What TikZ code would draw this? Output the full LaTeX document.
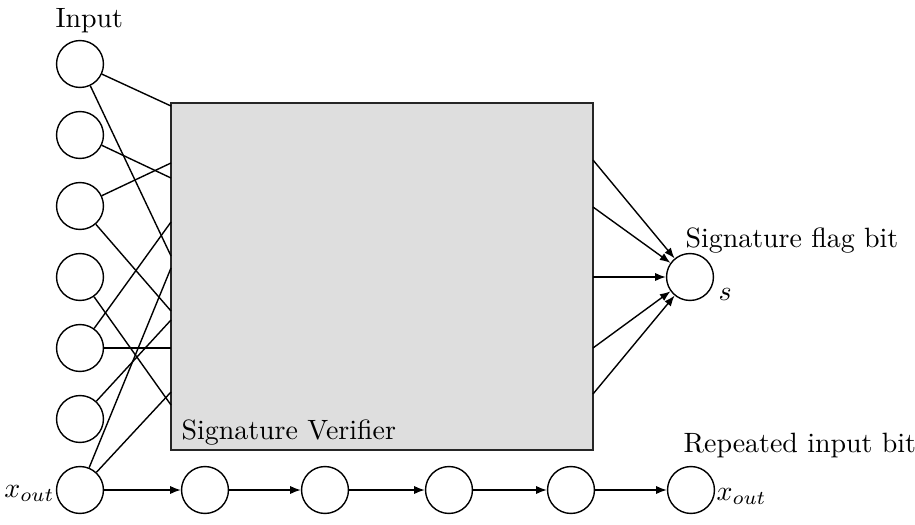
\documentclass[tikz,border=0pt]{standalone}
\usetikzlibrary{arrows.meta}
\definecolor{boxgray}{HTML}{DEDEDE}
\begin{document}
\begin{tikzpicture}[x=0.358pt,y=-0.358pt,
  neuron/.style={circle,draw,line width=0.5pt,minimum size=16.8pt,inner sep=0pt},
  wire/.style={line width=0.5pt},
  arr/.style={wire,-{Latex[length=3.8pt,width=2.9pt]}},
  lbl/.style={inner sep=0pt,anchor=base west}]
\useasboundingbox (0,0) rectangle (915,525);
\node[draw=black!85,fill=boxgray,line width=0.5pt,minimum width=151.1pt,minimum height=124.2pt,inner sep=0pt] (box) at (382,276.5) {};
\foreach \i/\y in {1/64,2/135,3/206,4/277,5/348,6/419,7/490}
  \node[neuron] (c\i) at (80,\y) {};
\foreach \i/\x in {1/205,2/325,3/449,4/571,5/691}
  \node[neuron] (b\i) at (\x,490) {};
\node[neuron] (s) at (690,277) {};
% left endpoints on the box
\foreach \n/\y in {a/106,b/163,c/178,d/222,e/256,f/268,g/311,h/320,k/348,m/392,p/405}
  \coordinate (L\n) at (171,\y);
\foreach \n/\y in {a/160,b/207,c/277,d/348,e/394}
  \coordinate (R\n) at (593,\y);
% input wires
\draw[wire] (c1) -- (La);
\draw[wire] (c1) -- (Le);
\draw[wire] (c2) -- (Lc);
\draw[wire] (c3) -- (Lb);
\draw[wire] (c3) -- (Lg);
\draw[wire] (c4) -- (Lp);
\draw[wire] (c5) -- (Ld);
\draw[wire] (c5) -- (Lk);
\draw[wire] (c6) -- (Lh);
\draw[wire] (c7) -- (Lf);
\draw[wire] (c7) -- (Lm);
% output wires
\foreach \n in {a,b,c,d,e}
  \draw[arr] (R\n) -- (s);
% chain
\draw[arr] (c7) -- (b1);
\draw[arr] (b1) -- (b2);
\draw[arr] (b2) -- (b3);
\draw[arr] (b3) -- (b4);
\draw[arr] (b4) -- (b5);
% labels
\node[lbl] (tin) at (55,27) {Input};
\node[lbl] (tsf) at (685,247) {Signature flag bit};
\node[lbl] (trep) at (683,452) {Repeated input bit};
\node[lbl] (tver) at (181,439) {Signature Verifier};
\node[inner sep=0pt,anchor=base east] (xl) at (55,497) {$x_{out}$};
\node[lbl] (xr) at (716,500) {$x_{out}$};
\node[lbl] (sl) at (718,300) {$s$};
\end{tikzpicture}
\end{document}
